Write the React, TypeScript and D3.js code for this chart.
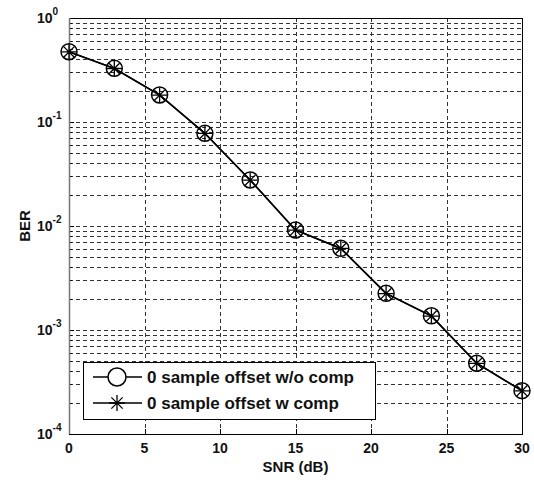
import React, { useEffect, useRef } from 'react';
import * as d3 from 'd3';

// SNR points (dB) and measured BER for both curves
const snr = [0, 3, 6, 9, 12, 15, 18, 21, 24, 27, 30];
const berNoComp = [0.474, 0.328, 0.182, 0.0778, 0.0277, 0.00916, 0.0061, 0.00225, 0.00137, 0.000479, 0.000261];
const berComp = [0.472, 0.327, 0.181, 0.0776, 0.0276, 0.00914, 0.00608, 0.00224, 0.00136, 0.000478, 0.00026];

const xTicks = [0, 5, 10, 15, 20, 25, 30];
const yExponents = [0, -1, -2, -3, -4];
const legendLabels = ['0 sample offset w/o comp', '0 sample offset w comp'];

const FONT = '"Liberation Sans", Arial, sans-serif';

const App = () => {
  const svgRef = useRef<SVGSVGElement>(null);

  useEffect(() => {
    const width = 534;
    const height = 480;
    const margin = { top: 18, right: 12, bottom: 46, left: 69 };

    d3.select(svgRef.current).selectAll('*').remove();

    const svg = d3
      .select(svgRef.current)
      .attr('width', width)
      .attr('height', height)
      .style('font-family', FONT);

    svg.append('rect').attr('width', width).attr('height', height).attr('fill', '#fff');

    const x = d3.scaleLinear().domain([0, 30]).range([margin.left, width - margin.right]);
    const y = d3.scaleLog().domain([1e-4, 1]).range([height - margin.bottom, margin.top]);

    const [x0, x1] = x.range();
    const [yb, yt] = y.range();

    // Grid lines (major + minor on the log axis)
    const grid = svg.append('g').attr('stroke', '#333').attr('stroke-width', 1).attr('stroke-dasharray', '4,3');
    const minor: number[] = [];
    for (let e = -4; e < 0; e++) {
      for (let m = 1; m < 10; m++) minor.push(m * Math.pow(10, e));
    }
    grid
      .selectAll('line.hy')
      .data(minor.filter((v) => v > 1e-4))
      .join('line')
      .attr('class', 'hy')
      .attr('x1', x0)
      .attr('x2', x1)
      .attr('y1', (d) => Math.round(y(d)) + 0.5)
      .attr('y2', (d) => Math.round(y(d)) + 0.5);
    grid
      .selectAll('line.vx')
      .data(xTicks.slice(1, -1))
      .join('line')
      .attr('class', 'vx')
      .attr('x1', (d) => Math.round(x(d)) + 0.5)
      .attr('x2', (d) => Math.round(x(d)) + 0.5)
      .attr('y1', yt)
      .attr('y2', yb);

    // Inward ticks
    const ticks = svg.append('g').attr('stroke', '#000').attr('stroke-width', 1);
    ticks
      .selectAll('line.xt')
      .data(xTicks)
      .join('line')
      .attr('x1', (d) => Math.round(x(d)) + 0.5)
      .attr('x2', (d) => Math.round(x(d)) + 0.5)
      .attr('y1', yb)
      .attr('y2', yb - 5);
    ticks
      .selectAll('line.yt')
      .data(minor)
      .join('line')
      .attr('x1', x0)
      .attr('x2', (d) => x0 + (Math.abs(Math.log10(d) - Math.round(Math.log10(d))) < 1e-9 ? 5 : 3))
      .attr('y1', (d) => Math.round(y(d)) + 0.5)
      .attr('y2', (d) => Math.round(y(d)) + 0.5);

    // Axes box
    svg
      .append('rect')
      .attr('x', x0 + 0.5)
      .attr('y', yt + 0.5)
      .attr('width', x1 - x0)
      .attr('height', yb - yt)
      .attr('fill', 'none')
      .attr('stroke', '#000')
      .attr('stroke-width', 1);
    svg
      .append('line')
      .attr('x1', x0 + 0.5)
      .attr('x2', x0 + 0.5)
      .attr('y1', yt)
      .attr('y2', yb)
      .attr('stroke', '#777')
      .attr('stroke-width', 1.5);

    // Tick labels
    svg
      .selectAll('text.xl')
      .data(xTicks)
      .join('text')
      .attr('class', 'xl')
      .attr('x', (d) => x(d))
      .attr('y', yb + 19)
      .attr('text-anchor', 'middle')
      .attr('font-size', 14)
      .attr('font-weight', 'bold')
      .attr('fill', '#111')
      .text((d) => d);

    const yl = svg
      .selectAll('text.yl')
      .data(yExponents)
      .join('text')
      .attr('class', 'yl')
      .attr('x', 37)
      .attr('y', (d) => y(Math.pow(10, d)) + 5)
      .attr('font-size', 14)
      .attr('font-weight', 'bold')
      .attr('fill', '#111');
    yl.append('tspan').text('10');
    yl.append('tspan')
      .attr('dy', -8)
      .attr('font-size', 10)
      .text((d) => `${d}`);

    // Axis titles
    svg
      .append('text')
      .attr('x', (x0 + x1) / 2)
      .attr('y', 472)
      .attr('text-anchor', 'middle')
      .attr('font-size', 15)
      .attr('font-weight', 'bold')
      .attr('fill', '#111')
      .text('SNR (dB)');
    svg
      .append('text')
      .attr('transform', `translate(24, ${(yt + yb) / 2}) rotate(-90)`)
      .attr('text-anchor', 'middle')
      .attr('dominant-baseline', 'central')
      .attr('font-size', 15)
      .attr('font-weight', 'bold')
      .attr('fill', '#111')
      .text('BER');

    // Curves
    const line = d3
      .line<number>()
      .x((_, i) => x(snr[i]))
      .y((d) => y(d));

    const circle = (g: any, cx: number, cy: number) =>
      g
        .append('circle')
        .attr('cx', cx)
        .attr('cy', cy)
        .attr('r', 8)
        .attr('fill', 'none')
        .attr('stroke', '#000')
        .attr('stroke-width', 1.5);

    const star = (g: any, cx: number, cy: number, r: number) => {
      const d = r * Math.SQRT1_2;
      g.append('path')
        .attr(
          'd',
          `M${cx - r},${cy}L${cx + r},${cy}M${cx},${cy - r}L${cx},${cy + r}` +
            `M${cx - d},${cy - d}L${cx + d},${cy + d}M${cx - d},${cy + d}L${cx + d},${cy - d}`
        )
        .attr('stroke', '#000')
        .attr('stroke-width', 1.3)
        .attr('fill', 'none');
    };

    const plot = svg.append('g');
    plot
      .append('path')
      .datum(berNoComp)
      .attr('d', line)
      .attr('fill', 'none')
      .attr('stroke', '#000')
      .attr('stroke-width', 1.5);
    plot
      .append('path')
      .datum(berComp)
      .attr('d', line)
      .attr('fill', 'none')
      .attr('stroke', '#000')
      .attr('stroke-width', 1.5);
    berNoComp.forEach((v, i) => circle(plot, x(snr[i]), y(v)));
    berComp.forEach((v, i) => star(plot, x(snr[i]), y(v), 7.5));

    // Legend
    const lg = svg.append('g');
    lg.append('rect')
      .attr('x', 83.5)
      .attr('y', 362.5)
      .attr('width', 292)
      .attr('height', 57)
      .attr('fill', '#fff')
      .attr('stroke', '#000')
      .attr('stroke-width', 1);
    legendLabels.forEach((label, i) => {
      const ly = 377 + i * 26;
      lg.append('line')
        .attr('x1', 93)
        .attr('x2', 142)
        .attr('y1', ly)
        .attr('y2', ly)
        .attr('stroke', '#000')
        .attr('stroke-width', 1.5);
      if (i === 0) {
        lg.append('circle')
          .attr('cx', 117)
          .attr('cy', ly)
          .attr('r', 9)
          .attr('fill', '#fff')
          .attr('stroke', '#000')
          .attr('stroke-width', 1.5);
      } else {
        star(lg, 117, ly, 8);
      }
      lg.append('text')
        .attr('x', 147)
        .attr('y', ly)
        .attr('dominant-baseline', 'central')
        .attr('font-size', 17)
        .attr('font-weight', 'bold')
        .attr('fill', '#111')
        .text(label);
    });
  }, []);

  return <svg ref={svgRef} style={{ position: 'absolute', left: 0, top: 0 }}></svg>;
};

export default App;
